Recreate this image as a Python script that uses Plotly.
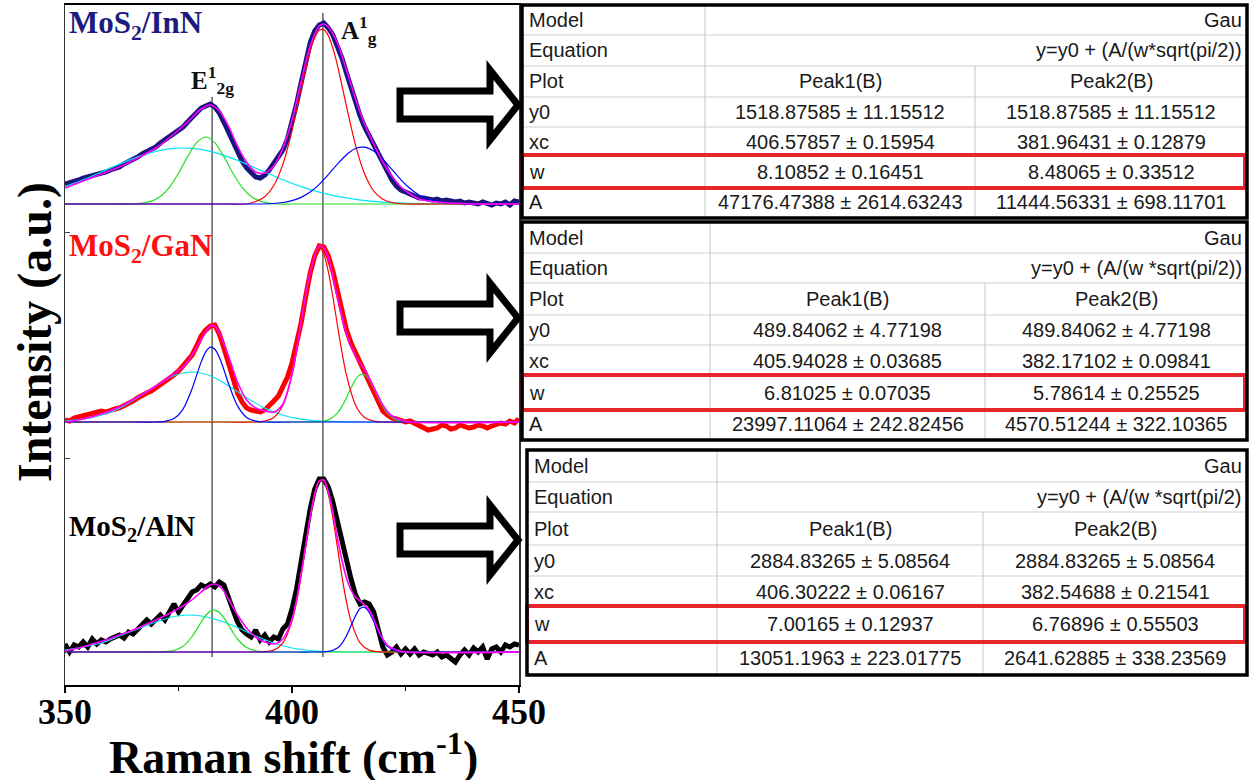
import plotly.graph_objects as go

W, H = 1252, 780

# ---------------- data ----------------
raman_shift = list(range(350, 451))

inn_measured = [20, 21, 22, 24, 26, 27, 28, 30, 31, 32,
                34, 35, 37, 40, 42, 44, 47, 50, 52, 54,
                57, 61, 64, 68, 71, 74, 77, 82, 87, 92,
                96, 98, 100, 97, 91, 82, 72, 61, 51, 43,
                36, 31, 27, 26, 29, 34, 41, 47, 54, 65,
                81, 100, 121, 142, 161, 173, 179, 181, 176, 169,
                159, 146, 131, 116, 101, 88, 77, 68, 61, 51,
                41, 32, 24, 18, 14, 12, 10, 8, 6, 6,
                5, 4, 5, 3, 4, 3, 2, 3, 1, 2,
                1, 0, 2, 1, -1, 1, 0, 2, -1, 3,
                2]
gan_measured = [2, 1, 4, 5, 6, 8, 9, 9, 11, 10,
                12, 13, 14, 16, 19, 21, 24, 27, 29, 31,
                34, 38, 41, 44, 47, 51, 56, 61, 67, 76,
                86, 92, 96, 97, 88, 74, 59, 43, 29, 20,
                14, 12, 11, 10, 12, 16, 21, 26, 36, 45,
                59, 78, 99, 125, 149, 166, 176, 175, 166, 151,
                132, 111, 92, 79, 69, 60, 52, 41, 29, 19,
                11, 7, 4, 3, 2, 0, 1, -1, -3, -6,
                -8, -7, -6, -3, -4, -7, -6, -3, -4, -6,
                -5, -3, -4, -6, -4, -2, -1, -2, 1, -1,
                3]
aln_measured = [8, 0, 7, 5, 10, 5, 13, 8, 12, 10,
                13, 15, 17, 14, 20, 18, 23, 27, 32, 28,
                33, 37, 32, 40, 48, 40, 47, 53, 60, 62,
                67, 65, 68, 65, 70, 67, 53, 42, 30, 22,
                18, 15, 22, 12, 17, 10, 15, 13, 23, 28,
                43, 63, 90, 117, 143, 163, 173, 173, 165, 150,
                130, 110, 93, 73, 57, 48, 50, 48, 40, 23,
                5, -3, 0, 5, -2, 3, -2, 3, -3, 0,
                -2, -3, 0, -5, -3, -7, -10, -3, 2, -3,
                4, 0, 5, -7, 3, 5, 0, 7, 5, 8,
                7]

# cumulative fits (magenta)
inn_fit_x = [350, 354, 358, 362, 366, 370, 374, 377, 380, 382, 384, 386, 388, 390, 392, 394, 396, 398, 400, 402,
             404, 406, 407, 408, 410, 412, 414, 416, 418, 420, 422, 424, 426, 428, 430, 435, 440, 450]
inn_fit_y = [16, 23, 30, 37, 46, 56, 70, 82, 95, 99, 93, 78, 58, 42, 32, 31, 38, 56, 84, 122,
             158, 178, 180, 177, 161, 134, 105, 80, 60, 42, 28, 17, 10, 5, 3, 1, 0, 0]
gan_fit_x = [350, 354, 358, 362, 366, 370, 374, 377, 379, 381, 382, 383, 384, 386, 388, 390, 392, 394, 396, 398,
             400, 402, 404, 406, 407, 408, 410, 412, 414, 416, 418, 420, 422, 424, 426, 450]
gan_fit_y = [0, 3, 8, 15, 25, 36, 48, 60, 75, 90, 96, 96, 89, 66, 40, 22, 14, 11, 10, 18,
             48, 100, 150, 176, 174, 164, 125, 88, 66, 52, 35, 17, 6, 2, 0, 0]
aln_fit_x = [350, 353, 356, 359, 362, 365, 368, 371, 374, 377, 379, 381, 382, 383, 384, 385, 386, 388, 390, 392,
             394, 396, 398, 400, 401, 402, 403, 404, 405, 406, 407, 408, 409, 410, 411, 412, 413, 414, 415, 416,
             417, 418, 419, 420, 421, 423, 425, 450]
aln_fit_y = [1, 4, 8, 12, 17, 22, 28, 34, 41, 49, 56, 64, 67, 68, 66, 61, 53, 37, 24, 15,
             10, 8, 13, 33, 52, 78, 106, 135, 158, 171, 172, 160, 140, 114, 92, 74, 62, 55, 51, 47,
             42, 33, 22, 13, 7, 2, 0, 0]

# fitted peak components
inn_cyan_x = [350, 354, 358, 362, 366, 370, 374, 378, 382, 386, 390, 394, 398, 402, 406, 410, 414, 418, 422, 426, 430, 440, 450]
inn_cyan_y = [17.4, 24.2, 32, 39.9, 47.1, 52.6, 55.6, 55.6, 52.6, 47.1, 39.9, 32, 24.2, 17.4, 11.8, 7.6, 4.6, 2.7, 1.4, 0.7, 0.3, 0, 0]
inn_green_x = [350, 360, 365, 367, 369, 371, 373, 375, 377, 379, 381, 383, 385, 387, 389, 391, 393, 395, 397, 400, 450]
inn_green_y = [0, 0, 0, 0.9, 2.9, 7.6, 16.7, 30.7, 47.4, 61.4, 67, 61.4, 47.4, 30.7, 16.7, 7.6, 2.9, 0.9, 0, 0, 0]
inn_red_x = [350, 385, 390, 392, 394, 396, 398, 400, 402, 404, 405, 406, 407, 408, 409, 410, 412, 414, 416, 418, 420, 422, 425, 430, 450]
inn_red_y = [0, 0, 0, 2.5, 7.3, 18.5, 39.9, 73.2, 114.6, 152.9, 166.3, 173.7, 174.4, 168.3, 155.9, 138.9, 97.7, 58.6, 29.9, 13, 4.8, 1.5, 0, 0, 0]
inn_blue_x = [350, 385, 392, 396, 398, 400, 402, 404, 406, 408, 410, 412, 414, 416, 418, 420, 422, 424, 426, 428, 430, 432, 434, 438, 442, 450]
inn_blue_y = [0, 0, 0, 0.5, 1.5, 3.3, 6.6, 11.9, 19.6, 29.3, 39.8, 49.3, 55.5, 56.8, 52.9, 44.9, 34.6, 24.2, 15.5, 9, 4.7, 2.3, 1, 0, 0, 0]

gan_cyan_x = [350, 354, 358, 362, 366, 370, 374, 378, 382, 386, 390, 394, 398, 402, 406, 410, 414, 450]
gan_cyan_y = [1, 2.8, 6.8, 13.9, 24.3, 36.3, 46.2, 50, 46.2, 36.3, 24.3, 13.9, 6.8, 2.8, 1, 0.3, 0, 0]
gan_blue_x = [350, 365, 370, 372, 374, 376, 378, 379, 380, 381, 382, 383, 384, 385, 386, 388, 390, 392, 394, 400, 450]
gan_blue_y = [0, 0, 0, 0.6, 3.4, 12.9, 33.4, 46.9, 60.1, 70.2, 74.9, 72.8, 64.7, 52.3, 38.7, 16.1, 4.6, 0.9, 0, 0, 0]
gan_red_x = [350, 385, 392, 394, 396, 398, 400, 401, 402, 403, 404, 405, 406, 407, 408, 409, 410, 411, 412, 414, 416, 418, 420, 425, 450]
gan_red_y = [0, 0, 0, 0.9, 4.5, 16.8, 46.8, 69.9, 97, 125.3, 150.4, 167.7, 174, 167.7, 150.4, 125.3, 97, 69.9, 46.8, 16.8, 4.5, 0.9, 0, 0, 0]
gan_green_x = [350, 395, 402, 406, 408, 410, 411, 412, 413, 414, 415, 416, 417, 418, 419, 420, 421, 423, 425, 430, 450]
gan_green_y = [0, 0, 0, 0.3, 2.1, 8.9, 15.6, 24.3, 33.9, 42.4, 47.3, 47.3, 42.4, 33.9, 24.3, 15.6, 8.9, 2.1, 0.3, 0, 0]

aln_cyan_x = [350, 354, 358, 362, 366, 370, 374, 377, 380, 384, 388, 392, 396, 400, 404, 408, 412, 450]
aln_cyan_y = [2, 5, 9, 16, 23, 30, 35.5, 37, 36, 31.5, 24.5, 16, 9, 4, 1.5, 0.5, 0, 0]
aln_green_x = [350, 365, 370, 372, 374, 376, 378, 379, 380, 381, 382, 383, 384, 385, 386, 387, 388, 390, 392, 394, 400, 450]
aln_green_y = [0, 0, 0, 0.3, 1.5, 5.7, 15.5, 22.5, 29.9, 36.5, 40.9, 41.9, 39.5, 34.1, 27, 19.6, 13, 4.5, 1.1, 0.2, 0, 0]
aln_red_x = [350, 385, 392, 394, 396, 398, 400, 401, 402, 403, 404, 405, 406, 407, 408, 409, 410, 411, 412, 413, 415, 417, 419, 422, 450]
aln_red_y = [0, 0, 0, 0.3, 1.9, 9.1, 30.9, 50.3, 75.7, 104.9, 134, 157.8, 171.2, 171.2, 157.8, 134, 104.9, 75.7, 50.3, 30.9, 9.1, 1.9, 0.3, 0, 0]
aln_blue_x = [350, 400, 404, 408, 410, 411, 412, 413, 414, 415, 416, 417, 418, 419, 420, 421, 423, 425, 430, 450]
aln_blue_y = [0, 0, 0, 0.6, 4.1, 8.7, 16.3, 26.2, 36.3, 43.4, 44.7, 39.7, 30.4, 20.1, 11.4, 5.6, 0.9, 0, 0, 0]

# peak marker positions (cm-1)
peak_marks = [382.4, 406.8]
x_ticks = [350, 400, 450]
x_minor_ticks = [375, 425]

sample_labels = ["MoS<sub>2</sub>/InN", "MoS<sub>2</sub>/GaN", "MoS<sub>2</sub>/AlN"]

# fit tables
row_labels = ["Model", "Equation", "Plot", "y0", "xc", "w", "A"]
peak_headers = ["Peak1(B)", "Peak2(B)"]
model_name = "Gau"
t1_equation = "y=y0 + (A/(w*sqrt(pi/2))"
t1_y0 = ["1518.87585 ± 11.15512", "1518.87585 ± 11.15512"]
t1_xc = ["406.57857 ± 0.15954", "381.96431 ± 0.12879"]
t1_w = ["8.10852 ± 0.16451", "8.48065 ± 0.33512"]
t1_A = ["47176.47388 ± 2614.63243", "11444.56331 ± 698.11701"]
t2_equation = "y=y0 + (A/(w *sqrt(pi/2))"
t2_y0 = ["489.84062 ± 4.77198", "489.84062 ± 4.77198"]
t2_xc = ["405.94028 ± 0.03685", "382.17102 ± 0.09841"]
t2_w = ["6.81025 ± 0.07035", "5.78614 ± 0.25525"]
t2_A = ["23997.11064 ± 242.82456", "4570.51244 ± 322.10365"]
t3_equation = "y=y0 + (A/(w *sqrt(pi/2)"
t3_y0 = ["2884.83265 ± 5.08564", "2884.83265 ± 5.08564"]
t3_xc = ["406.30222 ± 0.06167", "382.54688 ± 0.21541"]
t3_w = ["7.00165 ± 0.12937", "6.76896 ± 0.55503"]
t3_A = ["13051.1963 ± 223.01775", "2641.62885 ± 338.23569"]

# ---------------- styles / layout geometry ----------------
CYAN, GREEN, RED, BLUE, MAG = "#00e4f4", "#22e022", "#ff0000", "#0000ff", "#ff00ff"
SERIF = "Liberation Serif, Times New Roman, serif"
SANS = "Liberation Sans, Arial, sans-serif"


def px(x):
    return x / W


def py(y):
    return 1 - y / H


fig = go.Figure()

panels = [
    dict(offset=481, meas=inn_measured, color="#16167c", fit=(inn_fit_x, inn_fit_y),
         comps=[(inn_cyan_x, inn_cyan_y, CYAN), (inn_green_x, inn_green_y, GREEN),
                (inn_red_x, inn_red_y, RED), (inn_blue_x, inn_blue_y, BLUE)]),
    dict(offset=263, meas=gan_measured, color="#ff0000", fit=(gan_fit_x, gan_fit_y),
         comps=[(gan_cyan_x, gan_cyan_y, CYAN), (gan_green_x, gan_green_y, GREEN),
                (gan_red_x, gan_red_y, RED), (gan_blue_x, gan_blue_y, BLUE)]),
    dict(offset=33, meas=aln_measured, color="#000000", fit=(aln_fit_x, aln_fit_y),
         comps=[(aln_cyan_x, aln_cyan_y, CYAN), (aln_green_x, aln_green_y, GREEN),
                (aln_red_x, aln_red_y, RED), (aln_blue_x, aln_blue_y, BLUE)]),
]

# peak marker lines
mark_extent = [(28, 588), (28, 672)]
for xm, (y0, y1) in zip(peak_marks, mark_extent):
    fig.add_trace(go.Scatter(x=[xm, xm], y=[y0, y1], mode="lines",
                             line=dict(color="#606060", width=1.5), hoverinfo="skip"))

for p in panels:
    off = p["offset"]
    fig.add_trace(go.Scatter(x=raman_shift, y=[v + off for v in p["meas"]], mode="lines",
                             line=dict(color=p["color"], width=5)))
    for cx, cy, col in p["comps"]:
        fig.add_trace(go.Scatter(x=cx, y=[v + off for v in cy], mode="lines",
                                 line=dict(color=col, width=1.2, shape="spline", smoothing=0.8)))
    fx, fy = p["fit"]
    fig.add_trace(go.Scatter(x=fx, y=[v + off for v in fy], mode="lines",
                             line=dict(color=MAG, width=1.6, shape="spline", smoothing=0.8)))

annotations = []
shapes = []

# sample labels
label_pos = [(67, 25, "#1c1c7e", 31), (67, 248, "#ff1010", 31), (67, 528, "#000000", 29)]
for txt, (lx, ly, col, sz) in zip(sample_labels, label_pos):
    annotations.append(dict(x=px(lx), y=py(ly), xref="paper", yref="paper", text=txt, showarrow=False,
                            xanchor="left", yanchor="middle",
                            font=dict(family=SERIF, size=sz, color=col, weight="bold")))
# mode labels
annotations.append(dict(x=px(189), y=py(80), xref="paper", yref="paper", showarrow=False,
                        text="E<sup>1</sup><sub>2g</sub>", xanchor="left", yanchor="middle",
                        font=dict(family=SERIF, size=25, color="#111", weight="bold")))
annotations.append(dict(x=px(339), y=py(30), xref="paper", yref="paper", showarrow=False,
                        text="A<sup>1</sup><sub>g</sub>", xanchor="left", yanchor="middle",
                        font=dict(family=SERIF, size=25, color="#111", weight="bold")))
# axis titles
annotations.append(dict(x=px(293), y=py(754), xref="paper", yref="paper", showarrow=False,
                        text="Raman shift (cm<sup>-1</sup>)", xanchor="center", yanchor="middle",
                        font=dict(family=SERIF, size=46, color="black", weight="bold")))
annotations.append(dict(x=px(35), y=py(332), xref="paper", yref="paper", showarrow=False,
                        text="Intensity (a.u.)", textangle=-90, xanchor="center", yanchor="middle",
                        font=dict(family=SERIF, size=48, color="black", weight="bold")))

# arrows
for c in [105, 318, 540]:
    pts = [(400, c - 14), (490, c - 14), (490, c - 35), (518, c), (490, c + 35), (490, c + 14), (400, c + 14)]
    path = "M " + " L ".join(f"{px(a):.5f},{py(b):.5f}" for a, b in pts) + " Z"
    shapes.append(dict(type="path", path=path, xref="paper", yref="paper",
                       line=dict(color="black", width=7), fillcolor="white", layer="above"))

# tables
tables = [
    dict(left=522, c1=705, c2=975, right=1247, edges=[5, 35, 66, 97, 127, 156, 187, 218],
         eq=t1_equation, vals=[t1_y0, t1_xc, t1_w, t1_A]),
    dict(left=522, c1=710, c2=985, right=1247, edges=[222, 253, 283, 315, 345, 376, 409, 440],
         eq=t2_equation, vals=[t2_y0, t2_xc, t2_w, t2_A]),
    dict(left=527, c1=717, c2=983, right=1247, edges=[450, 482, 512, 545, 576, 607, 641, 675],
         eq=t3_equation, vals=[t3_y0, t3_xc, t3_w, t3_A]),
]
GRID = "#cfcfcf"
TXT = "#1a1a1a"
for t in tables:
    L, C1, C2, R, E = t["left"], t["c1"], t["c2"], t["right"], t["edges"]
    shapes.append(dict(type="rect", xref="paper", yref="paper", x0=px(L), x1=px(R), y0=py(E[0]), y1=py(E[-1]),
                       fillcolor="white", line=dict(width=0), layer="above"))
    for e in E[1:-1]:
        shapes.append(dict(type="line", xref="paper", yref="paper", x0=px(L), x1=px(R), y0=py(e), y1=py(e),
                           line=dict(color=GRID, width=1.2), layer="above"))
    shapes.append(dict(type="line", xref="paper", yref="paper", x0=px(C1), x1=px(C1), y0=py(E[0]), y1=py(E[-1]),
                       line=dict(color=GRID, width=1.2), layer="above"))
    shapes.append(dict(type="line", xref="paper", yref="paper", x0=px(C2), x1=px(C2), y0=py(E[2]), y1=py(E[-1]),
                       line=dict(color=GRID, width=1.2), layer="above"))
    # red highlight around w row
    shapes.append(dict(type="rect", xref="paper", yref="paper", x0=px(L), x1=px(R - 2), y0=py(E[5] - 1),
                       y1=py(E[6] + 1), line=dict(color="#e8242c", width=4), layer="above"))
    # outer border
    shapes.append(dict(type="rect", xref="paper", yref="paper", x0=px(L), x1=px(R), y0=py(E[0]), y1=py(E[-1]),
                       line=dict(color="black", width=3.5), layer="above"))
    centers = [(E[i] + E[i + 1]) / 2 for i in range(7)]
    for lab, cy in zip(row_labels, centers):
        annotations.append(dict(x=px(L + 5), y=py(cy), xref="paper", yref="paper", text=lab, showarrow=False,
                                xanchor="left", yanchor="middle", font=dict(family=SANS, size=20, color=TXT)))
    annotations.append(dict(x=px(R - 3), y=py(centers[0]), xref="paper", yref="paper", text=model_name,
                            showarrow=False, xanchor="right", yanchor="middle",
                            font=dict(family=SANS, size=20, color=TXT)))
    annotations.append(dict(x=px(R - 3), y=py(centers[1]), xref="paper", yref="paper", text=t["eq"],
                            showarrow=False, xanchor="right", yanchor="middle",
                            font=dict(family=SANS, size=20, color=TXT)))
    colc = [(C1 + C2) / 2, (C2 + R) / 2]
    for j in range(2):
        annotations.append(dict(x=px(colc[j]), y=py(centers[2]), xref="paper", yref="paper",
                                text=peak_headers[j], showarrow=False, xanchor="center", yanchor="middle",
                                font=dict(family=SANS, size=20, color=TXT)))
        for k, row in enumerate(t["vals"]):
            annotations.append(dict(x=px(colc[j]), y=py(centers[3 + k]), xref="paper", yref="paper",
                                    text=row[j], showarrow=False, xanchor="center", yanchor="middle",
                                    font=dict(family=SANS, size=20, color=TXT)))

fig.update_layout(
    width=W, height=H, autosize=False,
    margin=dict(l=0, r=0, t=0, b=0, pad=0, autoexpand=False),
    paper_bgcolor="white", plot_bgcolor="rgba(0,0,0,0)", showlegend=False,
    xaxis=dict(domain=[65 / W, 519 / W], range=[350, 450], tickvals=x_ticks, ticks="outside", ticklen=6,
               tickwidth=1.5, tickcolor="black", showline=True, linecolor="black", linewidth=2, mirror=True,
               showgrid=False, zeroline=False, automargin=False, ticklabelstandoff=-12,
               tickfont=dict(family=SERIF, size=36, color="black", weight="bold"),
               minor=dict(tickvals=x_minor_ticks, ticks="outside", ticklen=4, tickcolor="black", showgrid=False)),
    yaxis=dict(domain=[1 - 685 / H, 1 - 5 / H], range=[0, 680], showticklabels=False, tickvals=[227, 453],
               ticks="inside", ticklen=5, tickcolor="#444", showline=True, linecolor="#333", linewidth=1.5,
               mirror=True, showgrid=False, zeroline=False, automargin=False),
    annotations=annotations,
    shapes=shapes,
)

fig.write_html("out.html", config={"displayModeBar": False, "staticPlot": True},
               post_script="document.body.style.margin='0';document.body.style.overflow='hidden';")
